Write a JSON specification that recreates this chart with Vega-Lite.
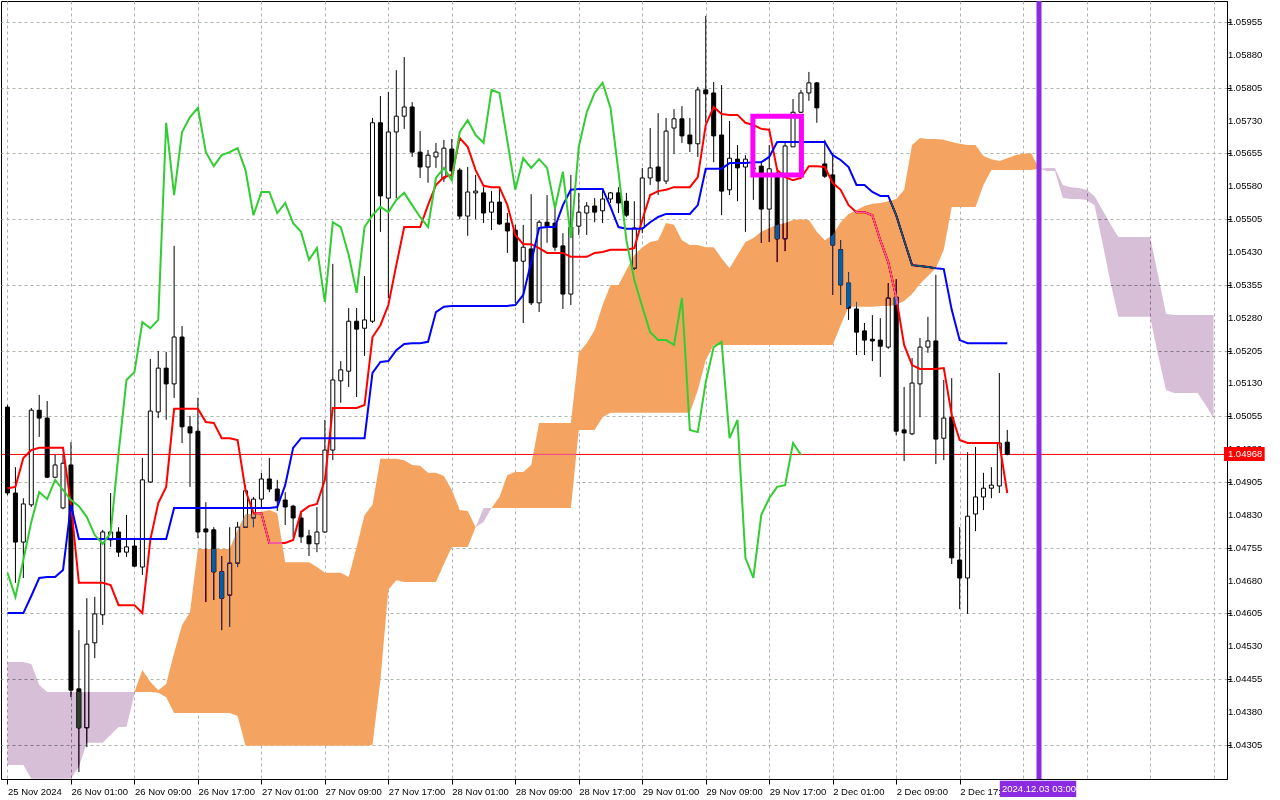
{
  "$schema": "https://vega.github.io/schema/vega-lite/v6.json",
  "width": 1226,
  "height": 778,
  "autosize": {"type": "none"},
  "padding": {"left": 1, "top": 1, "right": 53, "bottom": 21},
  "background": "white",
  "config": {
    "view": {"stroke": "black", "strokeWidth": 1, "fill": "white"},
    "font": "Liberation Sans",
    "axis": {"labelOverlap": false, "labelFlush": false, "labelBound": false}
  },
  "datasets": {
    "bars": [
      {"k":0,"o":1.05076,"h":1.05081,"l":1.04875,"c":1.0488,"tk":1.04891,"kj":1.04606},
      {"k":1,"o":1.0488,"h":1.04939,"l":1.04675,"c":1.04768,"tk":1.04894,"kj":1.04606},
      {"k":2,"o":1.04768,"h":1.04868,"l":1.04686,"c":1.04855,"tk":1.0496,"kj":1.04606},
      {"k":3,"o":1.04853,"h":1.05074,"l":1.04848,"c":1.05069,"tk":1.04978,"kj":1.04645},
      {"k":4,"o":1.05069,"h":1.05104,"l":1.05008,"c":1.05051,"tk":1.04983,"kj":1.04686},
      {"k":5,"o":1.05051,"h":1.0509,"l":1.04914,"c":1.04916,"tk":1.04983,"kj":1.04688},
      {"k":6,"o":1.04916,"h":1.04967,"l":1.04914,"c":1.04944,"tk":1.04983,"kj":1.04688},
      {"k":7,"o":1.04846,"h":1.04967,"l":1.04843,"c":1.04948,"tk":1.04983,"kj":1.04704},
      {"k":8,"o":1.04944,"h":1.04996,"l":1.04414,"c":1.0443,"tk":1.04853,"kj":1.04853},
      {"k":9,"o":1.04433,"h":1.04567,"l":1.04243,"c":1.04344,"tk":1.04675,"kj":1.04775},
      {"k":10,"o":1.04344,"h":1.0464,"l":1.043,"c":1.04535,"tk":1.04675,"kj":1.04775},
      {"k":11,"o":1.04538,"h":1.04643,"l":1.04503,"c":1.04604,"tk":1.04675,"kj":1.04775},
      {"k":12,"o":1.04602,"h":1.04796,"l":1.04579,"c":1.04791,"tk":1.04675,"kj":1.04775},
      {"k":13,"o":1.04773,"h":1.0488,"l":1.04757,"c":1.04791,"tk":1.0467,"kj":1.04775},
      {"k":14,"o":1.04791,"h":1.04802,"l":1.04734,"c":1.04745,"tk":1.04624,"kj":1.04775},
      {"k":15,"o":1.04745,"h":1.0483,"l":1.04734,"c":1.04757,"tk":1.04624,"kj":1.04775},
      {"k":16,"o":1.04759,"h":1.04773,"l":1.04711,"c":1.04713,"tk":1.04624,"kj":1.04775},
      {"k":17,"o":1.04711,"h":1.0496,"l":1.04693,"c":1.0491,"tk":1.04606,"kj":1.04775},
      {"k":18,"o":1.04905,"h":1.05186,"l":1.04903,"c":1.05067,"tk":1.04773,"kj":1.04775},
      {"k":19,"o":1.05065,"h":1.05204,"l":1.05051,"c":1.05165,"tk":1.04857,"kj":1.04775},
      {"k":20,"o":1.05165,"h":1.05202,"l":1.05047,"c":1.05129,"tk":1.04894,"kj":1.04775},
      {"k":21,"o":1.05129,"h":1.05444,"l":1.05097,"c":1.05236,"tk":1.05072,"kj":1.04846},
      {"k":22,"o":1.05236,"h":1.05261,"l":1.04994,"c":1.05031,"tk":1.05072,"kj":1.04846},
      {"k":23,"o":1.05031,"h":1.05056,"l":1.04894,"c":1.05017,"tk":1.05072,"kj":1.04846},
      {"k":24,"o":1.05021,"h":1.05097,"l":1.04777,"c":1.04791,"tk":1.05072,"kj":1.04846},
      {"k":25,"o":1.04798,"h":1.04859,"l":1.04631,"c":1.04791,"tk":1.05042,"kj":1.04846},
      {"k":26,"o":1.04796,"h":1.04802,"l":1.04636,"c":1.047,"tk":1.0504,"kj":1.04846},
      {"k":27,"o":1.047,"h":1.04736,"l":1.04567,"c":1.0464,"tk":1.05005,"kj":1.04846},
      {"k":28,"o":1.04647,"h":1.04802,"l":1.04574,"c":1.0472,"tk":1.05005,"kj":1.04846},
      {"k":29,"o":1.0472,"h":1.04814,"l":1.04711,"c":1.04802,"tk":1.05001,"kj":1.04846},
      {"k":30,"o":1.04802,"h":1.04898,"l":1.048,"c":1.04885,"tk":1.04886,"kj":1.04846},
      {"k":31,"o":1.04823,"h":1.04871,"l":1.04802,"c":1.04866,"tk":1.04834,"kj":1.04846},
      {"k":32,"o":1.04866,"h":1.04926,"l":1.04848,"c":1.04912,"tk":1.04834,"kj":1.04846},
      {"k":33,"o":1.04912,"h":1.0496,"l":1.04882,"c":1.04889,"tk":1.04766,"kj":1.04846},
      {"k":34,"o":1.04889,"h":1.0491,"l":1.04839,"c":1.04862,"tk":1.04766,"kj":1.04848},
      {"k":35,"o":1.04864,"h":1.04882,"l":1.04807,"c":1.04848,"tk":1.04766,"kj":1.04898},
      {"k":36,"o":1.0485,"h":1.04853,"l":1.0478,"c":1.04823,"tk":1.04773,"kj":1.04983},
      {"k":37,"o":1.04823,"h":1.04834,"l":1.04766,"c":1.0478,"tk":1.04837,"kj":1.05005},
      {"k":38,"o":1.04782,"h":1.04796,"l":1.04736,"c":1.04764,"tk":1.0485,"kj":1.05005},
      {"k":39,"o":1.04764,"h":1.04848,"l":1.04745,"c":1.04791,"tk":1.04855,"kj":1.05005},
      {"k":40,"o":1.04791,"h":1.05047,"l":1.04789,"c":1.04978,"tk":1.0491,"kj":1.05005},
      {"k":41,"o":1.04978,"h":1.05403,"l":1.04955,"c":1.05138,"tk":1.05074,"kj":1.05005},
      {"k":42,"o":1.05136,"h":1.05181,"l":1.05086,"c":1.05161,"tk":1.05074,"kj":1.05005},
      {"k":43,"o":1.05158,"h":1.05302,"l":1.05122,"c":1.05272,"tk":1.05074,"kj":1.05005},
      {"k":44,"o":1.05272,"h":1.05302,"l":1.05099,"c":1.05254,"tk":1.05074,"kj":1.05005},
      {"k":45,"o":1.05256,"h":1.05375,"l":1.05193,"c":1.05275,"tk":1.05081,"kj":1.05005},
      {"k":46,"o":1.05272,"h":1.05736,"l":1.05268,"c":1.05725,"tk":1.05236,"kj":1.05154},
      {"k":47,"o":1.05725,"h":1.05786,"l":1.05476,"c":1.05558,"tk":1.05263,"kj":1.05179},
      {"k":48,"o":1.05553,"h":1.05795,"l":1.05325,"c":1.05704,"tk":1.05309,"kj":1.05181},
      {"k":49,"o":1.05704,"h":1.05845,"l":1.05553,"c":1.0574,"tk":1.054,"kj":1.05206},
      {"k":50,"o":1.0574,"h":1.05875,"l":1.05711,"c":1.05761,"tk":1.05487,"kj":1.0522},
      {"k":51,"o":1.05761,"h":1.05772,"l":1.05647,"c":1.05658,"tk":1.05487,"kj":1.05222},
      {"k":52,"o":1.05658,"h":1.05706,"l":1.05599,"c":1.05624,"tk":1.05487,"kj":1.05222},
      {"k":53,"o":1.05624,"h":1.05663,"l":1.05588,"c":1.05651,"tk":1.05537,"kj":1.05225},
      {"k":54,"o":1.05647,"h":1.05679,"l":1.05622,"c":1.05658,"tk":1.05583,"kj":1.05293},
      {"k":55,"o":1.05599,"h":1.05686,"l":1.0559,"c":1.05667,"tk":1.05601,"kj":1.05305},
      {"k":56,"o":1.05665,"h":1.05688,"l":1.05594,"c":1.05615,"tk":1.05606,"kj":1.05307},
      {"k":57,"o":1.05617,"h":1.05622,"l":1.05505,"c":1.05512,"tk":1.0569,"kj":1.05307},
      {"k":58,"o":1.05512,"h":1.05624,"l":1.05467,"c":1.05567,"tk":1.0567,"kj":1.05307},
      {"k":59,"o":1.05565,"h":1.05606,"l":1.05505,"c":1.05569,"tk":1.05617,"kj":1.05307},
      {"k":60,"o":1.05565,"h":1.05578,"l":1.05496,"c":1.05519,"tk":1.05581,"kj":1.05307},
      {"k":61,"o":1.05521,"h":1.05569,"l":1.0548,"c":1.05544,"tk":1.05578,"kj":1.05307},
      {"k":62,"o":1.05544,"h":1.05576,"l":1.05492,"c":1.05494,"tk":1.05578,"kj":1.05307},
      {"k":63,"o":1.05496,"h":1.05519,"l":1.05428,"c":1.05478,"tk":1.05537,"kj":1.05307},
      {"k":64,"o":1.0548,"h":1.05492,"l":1.05314,"c":1.05409,"tk":1.05469,"kj":1.05309},
      {"k":65,"o":1.05409,"h":1.05492,"l":1.05268,"c":1.05441,"tk":1.05448,"kj":1.05332},
      {"k":66,"o":1.05437,"h":1.05562,"l":1.05309,"c":1.05314,"tk":1.05448,"kj":1.05407},
      {"k":67,"o":1.05314,"h":1.05503,"l":1.05293,"c":1.05498,"tk":1.05439,"kj":1.05485},
      {"k":68,"o":1.05498,"h":1.0556,"l":1.05451,"c":1.05489,"tk":1.05428,"kj":1.05487},
      {"k":69,"o":1.05496,"h":1.0553,"l":1.05432,"c":1.05441,"tk":1.05428,"kj":1.05487},
      {"k":70,"o":1.05444,"h":1.05473,"l":1.053,"c":1.05334,"tk":1.05428,"kj":1.05537},
      {"k":71,"o":1.05334,"h":1.05606,"l":1.05309,"c":1.05487,"tk":1.05419,"kj":1.05572},
      {"k":72,"o":1.05489,"h":1.05565,"l":1.05469,"c":1.05521,"tk":1.05419,"kj":1.05574},
      {"k":73,"o":1.05519,"h":1.05544,"l":1.05469,"c":1.05535,"tk":1.05419,"kj":1.05574},
      {"k":74,"o":1.05535,"h":1.05553,"l":1.05498,"c":1.05521,"tk":1.05428,"kj":1.05574},
      {"k":75,"o":1.05524,"h":1.05576,"l":1.05496,"c":1.05551,"tk":1.0543,"kj":1.05574},
      {"k":76,"o":1.05551,"h":1.05567,"l":1.05542,"c":1.05565,"tk":1.05435,"kj":1.05533},
      {"k":77,"o":1.05565,"h":1.05578,"l":1.05519,"c":1.05542,"tk":1.05435,"kj":1.05487},
      {"k":78,"o":1.05546,"h":1.05565,"l":1.0551,"c":1.05514,"tk":1.05435,"kj":1.05483},
      {"k":79,"o":1.05393,"h":1.05546,"l":1.05389,"c":1.05485,"tk":1.05439,"kj":1.05483},
      {"k":80,"o":1.05485,"h":1.05622,"l":1.05473,"c":1.05599,"tk":1.05503,"kj":1.05483},
      {"k":81,"o":1.05599,"h":1.05713,"l":1.05583,"c":1.05622,"tk":1.0556,"kj":1.05498},
      {"k":82,"o":1.05624,"h":1.05747,"l":1.0556,"c":1.05592,"tk":1.05569,"kj":1.0551},
      {"k":83,"o":1.05592,"h":1.05736,"l":1.05585,"c":1.05706,"tk":1.05572,"kj":1.05517},
      {"k":84,"o":1.05713,"h":1.05756,"l":1.05654,"c":1.05734,"tk":1.05578,"kj":1.05517},
      {"k":85,"o":1.05734,"h":1.05763,"l":1.05679,"c":1.05695,"tk":1.05578,"kj":1.05517},
      {"k":86,"o":1.05697,"h":1.05736,"l":1.05658,"c":1.05677,"tk":1.05578,"kj":1.05517},
      {"k":87,"o":1.05677,"h":1.05807,"l":1.05647,"c":1.058,"tk":1.05601,"kj":1.05537},
      {"k":88,"o":1.058,"h":1.05969,"l":1.05725,"c":1.05791,"tk":1.0572,"kj":1.0562},
      {"k":89,"o":1.05793,"h":1.05818,"l":1.05635,"c":1.05695,"tk":1.05761,"kj":1.0562},
      {"k":90,"o":1.05697,"h":1.05811,"l":1.05514,"c":1.05569,"tk":1.05745,"kj":1.0562},
      {"k":91,"o":1.05572,"h":1.05729,"l":1.0556,"c":1.05644,"tk":1.05743,"kj":1.05633},
      {"k":92,"o":1.05642,"h":1.05674,"l":1.05546,"c":1.05622,"tk":1.05743,"kj":1.05633},
      {"k":93,"o":1.05624,"h":1.05651,"l":1.05476,"c":1.05642,"tk":1.05725,"kj":1.05633},
      {"k":94,"o":1.05622,"h":1.05629,"l":1.05549,"c":1.0562,"tk":1.0572,"kj":1.05635},
      {"k":95,"o":1.05626,"h":1.05633,"l":1.05451,"c":1.05528,"tk":1.05711,"kj":1.05635},
      {"k":96,"o":1.05528,"h":1.05674,"l":1.05453,"c":1.0562,"tk":1.05709,"kj":1.05647},
      {"k":97,"o":1.0561,"h":1.05622,"l":1.05407,"c":1.0546,"tk":1.05617,"kj":1.05681},
      {"k":98,"o":1.0546,"h":1.05679,"l":1.05432,"c":1.05672,"tk":1.05601,"kj":1.05681},
      {"k":99,"o":1.0567,"h":1.05779,"l":1.0567,"c":1.05749,"tk":1.05594,"kj":1.05681},
      {"k":100,"o":1.05749,"h":1.058,"l":1.05747,"c":1.05793,"tk":1.05599,"kj":1.05681},
      {"k":101,"o":1.05793,"h":1.05841,"l":1.05775,"c":1.05816,"tk":1.05626,"kj":1.05681},
      {"k":102,"o":1.05816,"h":1.05818,"l":1.05725,"c":1.05759,"tk":1.05626,"kj":1.05681},
      {"k":103,"o":1.05631,"h":1.05686,"l":1.05599,"c":1.05603,"tk":1.05624,"kj":1.05681},
      {"k":104,"o":1.05606,"h":1.05656,"l":1.05332,"c":1.05446,"tk":1.05588,"kj":1.05651},
      {"k":105,"o":1.05435,"h":1.05457,"l":1.05309,"c":1.05355,"tk":1.05572,"kj":1.0564},
      {"k":106,"o":1.05359,"h":1.05384,"l":1.05275,"c":1.05302,"tk":1.05537,"kj":1.05624},
      {"k":107,"o":1.053,"h":1.05316,"l":1.05195,"c":1.05247,"tk":1.05521,"kj":1.05583},
      {"k":108,"o":1.0525,"h":1.05268,"l":1.05195,"c":1.05229,"tk":1.05521,"kj":1.05583},
      {"k":109,"o":1.05231,"h":1.05286,"l":1.05181,"c":1.05227,"tk":1.05514,"kj":1.05567},
      {"k":110,"o":1.05229,"h":1.05279,"l":1.05145,"c":1.05215,"tk":1.05457,"kj":1.05558},
      {"k":111,"o":1.05213,"h":1.05359,"l":1.05209,"c":1.05325,"tk":1.05407,"kj":1.05558},
      {"k":112,"o":1.05327,"h":1.05368,"l":1.05012,"c":1.05021,"tk":1.05327,"kj":1.05514},
      {"k":113,"o":1.05024,"h":1.05122,"l":1.04953,"c":1.05017,"tk":1.05218,"kj":1.05457},
      {"k":114,"o":1.05015,"h":1.05188,"l":1.05012,"c":1.05131,"tk":1.05172,"kj":1.054},
      {"k":115,"o":1.05129,"h":1.05234,"l":1.05053,"c":1.05213,"tk":1.05163,"kj":1.05398},
      {"k":116,"o":1.05213,"h":1.05282,"l":1.052,"c":1.05227,"tk":1.05163,"kj":1.05396},
      {"k":117,"o":1.05227,"h":1.05378,"l":1.04946,"c":1.05003,"tk":1.05163,"kj":1.05393},
      {"k":118,"o":1.05005,"h":1.05138,"l":1.04955,"c":1.05051,"tk":1.05165,"kj":1.05391},
      {"k":119,"o":1.05053,"h":1.05142,"l":1.04718,"c":1.04732,"tk":1.05058,"kj":1.05298},
      {"k":120,"o":1.04727,"h":1.04802,"l":1.04615,"c":1.04686,"tk":1.05001,"kj":1.05229},
      {"k":121,"o":1.04686,"h":1.04973,"l":1.04604,"c":1.04827,"tk":1.04994,"kj":1.05222},
      {"k":122,"o":1.04832,"h":1.04985,"l":1.04793,"c":1.04871,"tk":1.04994,"kj":1.05222},
      {"k":123,"o":1.04871,"h":1.04926,"l":1.04841,"c":1.04891,"tk":1.04994,"kj":1.05222},
      {"k":124,"o":1.04891,"h":1.04939,"l":1.04868,"c":1.04898,"tk":1.04994,"kj":1.05222},
      {"k":125,"o":1.04896,"h":1.05154,"l":1.0488,"c":1.04994,"tk":1.04994,"kj":1.05222},
      {"k":126,"o":1.04996,"h":1.05024,"l":1.04966,"c":1.04968,"tk":1.0488,"kj":1.05222}
    ],
    "chikou": [
      {"k":0,"v":1.04698},{"k":1,"v":1.04643},{"k":2,"v":1.04727},{"k":3,"v":1.04814},{"k":4,"v":1.04882},
      {"k":5,"v":1.04866},{"k":6,"v":1.0491},{"k":7,"v":1.04887},{"k":8,"v":1.04864},{"k":9,"v":1.0485},
      {"k":10,"v":1.04825},{"k":11,"v":1.04784},{"k":12,"v":1.04764},{"k":13,"v":1.04789},{"k":14,"v":1.04971},
      {"k":15,"v":1.05138},{"k":16,"v":1.05156},{"k":17,"v":1.0527},{"k":18,"v":1.05256},{"k":19,"v":1.05275},
      {"k":20,"v":1.05725},{"k":21,"v":1.0556},{"k":22,"v":1.05704},{"k":23,"v":1.05738},{"k":24,"v":1.05759},
      {"k":25,"v":1.05658},{"k":26,"v":1.05626},{"k":27,"v":1.05651},{"k":28,"v":1.05658},{"k":29,"v":1.05667},
      {"k":30,"v":1.05617},{"k":31,"v":1.05514},{"k":32,"v":1.05567},{"k":33,"v":1.05567},{"k":34,"v":1.05519},
      {"k":35,"v":1.05542},{"k":36,"v":1.05496},{"k":37,"v":1.05476},{"k":38,"v":1.05412},{"k":39,"v":1.05439},
      {"k":40,"v":1.05316},{"k":41,"v":1.05498},{"k":42,"v":1.05487},{"k":43,"v":1.05423},{"k":44,"v":1.05337},
      {"k":45,"v":1.05487},{"k":46,"v":1.05514},{"k":47,"v":1.05533},{"k":48,"v":1.05521},{"k":49,"v":1.05549},
      {"k":50,"v":1.05565},{"k":51,"v":1.05537},{"k":52,"v":1.0551},{"k":53,"v":1.05487},{"k":54,"v":1.05599},
      {"k":55,"v":1.05622},{"k":56,"v":1.05594},{"k":57,"v":1.05704},{"k":58,"v":1.05731},{"k":59,"v":1.05697},
      {"k":60,"v":1.05679},{"k":61,"v":1.058},{"k":62,"v":1.05793},{"k":63,"v":1.05683},{"k":64,"v":1.05572},
      {"k":65,"v":1.05644},{"k":66,"v":1.05622},{"k":67,"v":1.05642},{"k":68,"v":1.05622},{"k":69,"v":1.0553},
      {"k":70,"v":1.05613},{"k":71,"v":1.05462},{"k":72,"v":1.0567},{"k":73,"v":1.05749},{"k":74,"v":1.05793},
      {"k":75,"v":1.05816},{"k":76,"v":1.05759},{"k":77,"v":1.05613},{"k":78,"v":1.05457},{"k":79,"v":1.05366},
      {"k":80,"v":1.05305},{"k":81,"v":1.05247},{"k":82,"v":1.05229},{"k":83,"v":1.05229},{"k":84,"v":1.05218},
      {"k":85,"v":1.05325},{"k":86,"v":1.05024},{"k":87,"v":1.05019},{"k":88,"v":1.05133},{"k":89,"v":1.05213},
      {"k":90,"v":1.05225},{"k":91,"v":1.05005},{"k":92,"v":1.05047},{"k":93,"v":1.04732},{"k":94,"v":1.04686},
      {"k":95,"v":1.0483},{"k":96,"v":1.04868},{"k":97,"v":1.04894},{"k":98,"v":1.04898},{"k":99,"v":1.04994},
      {"k":100,"v":1.04967}
    ],
    "cloud": [
      {"k":0,"hi":1.04494,"lo":1.04259,"seg":"a","col":"t"},
      {"k":1,"hi":1.04494,"lo":1.04259,"seg":"a","col":"t"},
      {"k":2,"hi":1.04494,"lo":1.04259,"seg":"a","col":"t"},
      {"k":3,"hi":1.0449,"lo":1.04228,"seg":"a","col":"t"},
      {"k":4,"hi":1.04442,"lo":1.04228,"seg":"a","col":"t"},
      {"k":5,"hi":1.04426,"lo":1.04228,"seg":"a","col":"t"},
      {"k":6,"hi":1.04426,"lo":1.04228,"seg":"a","col":"t"},
      {"k":7,"hi":1.04426,"lo":1.04228,"seg":"a","col":"t"},
      {"k":8,"hi":1.04426,"lo":1.04228,"seg":"a","col":"t"},
      {"k":9,"hi":1.04426,"lo":1.04255,"seg":"a","col":"t"},
      {"k":10,"hi":1.04426,"lo":1.0431,"seg":"a","col":"t"},
      {"k":11,"hi":1.04426,"lo":1.0431,"seg":"a","col":"t"},
      {"k":12,"hi":1.04426,"lo":1.0431,"seg":"a","col":"t"},
      {"k":13,"hi":1.04426,"lo":1.04328,"seg":"a","col":"t"},
      {"k":14,"hi":1.04426,"lo":1.04346,"seg":"a","col":"t"},
      {"k":15,"hi":1.04426,"lo":1.04346,"seg":"a","col":"t"},
      {"k":16,"hi":1.04426,"lo":1.04421,"seg":"a","col":"t"},
      {"k":16,"hi":1.04426,"lo":1.04426,"seg":"b","col":"o"},
      {"k":17,"hi":1.04476,"lo":1.04426,"seg":"b","col":"o"},
      {"k":18,"hi":1.04449,"lo":1.04426,"seg":"b","col":"o"},
      {"k":19,"hi":1.0443,"lo":1.04424,"seg":"b","col":"o"},
      {"k":20,"hi":1.04444,"lo":1.04414,"seg":"b","col":"o"},
      {"k":21,"hi":1.04515,"lo":1.04378,"seg":"b","col":"o"},
      {"k":22,"hi":1.04579,"lo":1.04378,"seg":"b","col":"o"},
      {"k":23,"hi":1.04608,"lo":1.04378,"seg":"b","col":"o"},
      {"k":24,"hi":1.04752,"lo":1.04378,"seg":"b","col":"o"},
      {"k":25,"hi":1.04752,"lo":1.04378,"seg":"b","col":"o"},
      {"k":26,"hi":1.04752,"lo":1.04378,"seg":"b","col":"o"},
      {"k":27,"hi":1.04752,"lo":1.04378,"seg":"b","col":"o"},
      {"k":28,"hi":1.04752,"lo":1.04378,"seg":"b","col":"o"},
      {"k":29,"hi":1.04796,"lo":1.04371,"seg":"b","col":"o"},
      {"k":30,"hi":1.04832,"lo":1.04303,"seg":"b","col":"o"},
      {"k":31,"hi":1.04832,"lo":1.04303,"seg":"b","col":"o"},
      {"k":32,"hi":1.04837,"lo":1.04303,"seg":"b","col":"o"},
      {"k":33,"hi":1.04841,"lo":1.04303,"seg":"b","col":"o"},
      {"k":34,"hi":1.04834,"lo":1.04303,"seg":"b","col":"o"},
      {"k":35,"hi":1.04722,"lo":1.04303,"seg":"b","col":"o"},
      {"k":36,"hi":1.04722,"lo":1.04303,"seg":"b","col":"o"},
      {"k":37,"hi":1.04722,"lo":1.04303,"seg":"b","col":"o"},
      {"k":38,"hi":1.04722,"lo":1.04303,"seg":"b","col":"o"},
      {"k":39,"hi":1.04711,"lo":1.04303,"seg":"b","col":"o"},
      {"k":40,"hi":1.04698,"lo":1.04303,"seg":"b","col":"o"},
      {"k":41,"hi":1.04698,"lo":1.04303,"seg":"b","col":"o"},
      {"k":42,"hi":1.04698,"lo":1.04303,"seg":"b","col":"o"},
      {"k":43,"hi":1.04688,"lo":1.04303,"seg":"b","col":"o"},
      {"k":44,"hi":1.04757,"lo":1.04303,"seg":"b","col":"o"},
      {"k":45,"hi":1.0483,"lo":1.04303,"seg":"b","col":"o"},
      {"k":46,"hi":1.04853,"lo":1.04305,"seg":"b","col":"o"},
      {"k":47,"hi":1.04958,"lo":1.04453,"seg":"b","col":"o"},
      {"k":48,"hi":1.04958,"lo":1.04659,"seg":"b","col":"o"},
      {"k":49,"hi":1.04958,"lo":1.04681,"seg":"b","col":"o"},
      {"k":50,"hi":1.04955,"lo":1.04677,"seg":"b","col":"o"},
      {"k":51,"hi":1.04944,"lo":1.04677,"seg":"b","col":"o"},
      {"k":52,"hi":1.04942,"lo":1.04677,"seg":"b","col":"o"},
      {"k":53,"hi":1.04926,"lo":1.04677,"seg":"b","col":"o"},
      {"k":54,"hi":1.04926,"lo":1.04677,"seg":"b","col":"o"},
      {"k":55,"hi":1.04919,"lo":1.04718,"seg":"b","col":"o"},
      {"k":56,"hi":1.04887,"lo":1.04757,"seg":"b","col":"o"},
      {"k":57,"hi":1.04841,"lo":1.04757,"seg":"b","col":"o"},
      {"k":58,"hi":1.04839,"lo":1.04757,"seg":"b","col":"o"},
      {"k":59,"hi":1.04802,"lo":1.04802,"seg":"b","col":"o"},
      {"k":59,"hi":1.04802,"lo":1.04802,"seg":"c","col":"t"},
      {"k":60,"hi":1.04846,"lo":1.04814,"seg":"c","col":"t"},
      {"k":61,"hi":1.04846,"lo":1.04846,"seg":"c","col":"t"},
      {"k":61,"hi":1.04846,"lo":1.04846,"seg":"d","col":"o"},
      {"k":62,"hi":1.04871,"lo":1.04846,"seg":"d","col":"o"},
      {"k":63,"hi":1.04921,"lo":1.04846,"seg":"d","col":"o"},
      {"k":64,"hi":1.04928,"lo":1.04846,"seg":"d","col":"o"},
      {"k":65,"hi":1.04928,"lo":1.04846,"seg":"d","col":"o"},
      {"k":66,"hi":1.04944,"lo":1.04846,"seg":"d","col":"o"},
      {"k":67,"hi":1.0504,"lo":1.04846,"seg":"d","col":"o"},
      {"k":68,"hi":1.0504,"lo":1.04846,"seg":"d","col":"o"},
      {"k":69,"hi":1.0504,"lo":1.04846,"seg":"d","col":"o"},
      {"k":70,"hi":1.0504,"lo":1.04846,"seg":"d","col":"o"},
      {"k":71,"hi":1.0504,"lo":1.04846,"seg":"d","col":"o"},
      {"k":72,"hi":1.052,"lo":1.05024,"seg":"d","col":"o"},
      {"k":73,"hi":1.05222,"lo":1.05024,"seg":"d","col":"o"},
      {"k":74,"hi":1.05252,"lo":1.05024,"seg":"d","col":"o"},
      {"k":75,"hi":1.05309,"lo":1.05053,"seg":"d","col":"o"},
      {"k":76,"hi":1.05355,"lo":1.05063,"seg":"d","col":"o"},
      {"k":77,"hi":1.05355,"lo":1.05063,"seg":"d","col":"o"},
      {"k":78,"hi":1.05389,"lo":1.05063,"seg":"d","col":"o"},
      {"k":79,"hi":1.05423,"lo":1.05063,"seg":"d","col":"o"},
      {"k":80,"hi":1.05441,"lo":1.05063,"seg":"d","col":"o"},
      {"k":81,"hi":1.05453,"lo":1.05063,"seg":"d","col":"o"},
      {"k":82,"hi":1.05457,"lo":1.05063,"seg":"d","col":"o"},
      {"k":83,"hi":1.05496,"lo":1.05063,"seg":"d","col":"o"},
      {"k":84,"hi":1.05492,"lo":1.05063,"seg":"d","col":"o"},
      {"k":85,"hi":1.05457,"lo":1.05063,"seg":"d","col":"o"},
      {"k":86,"hi":1.05446,"lo":1.05063,"seg":"d","col":"o"},
      {"k":87,"hi":1.05446,"lo":1.05115,"seg":"d","col":"o"},
      {"k":88,"hi":1.05441,"lo":1.05183,"seg":"d","col":"o"},
      {"k":89,"hi":1.05441,"lo":1.05218,"seg":"d","col":"o"},
      {"k":90,"hi":1.05416,"lo":1.05218,"seg":"d","col":"o"},
      {"k":91,"hi":1.05393,"lo":1.05218,"seg":"d","col":"o"},
      {"k":92,"hi":1.05423,"lo":1.05218,"seg":"d","col":"o"},
      {"k":93,"hi":1.05453,"lo":1.05218,"seg":"d","col":"o"},
      {"k":94,"hi":1.05462,"lo":1.05218,"seg":"d","col":"o"},
      {"k":95,"hi":1.05476,"lo":1.05218,"seg":"d","col":"o"},
      {"k":96,"hi":1.05485,"lo":1.05218,"seg":"d","col":"o"},
      {"k":97,"hi":1.05492,"lo":1.05218,"seg":"d","col":"o"},
      {"k":98,"hi":1.05496,"lo":1.05218,"seg":"d","col":"o"},
      {"k":99,"hi":1.05503,"lo":1.05218,"seg":"d","col":"o"},
      {"k":100,"hi":1.05505,"lo":1.05218,"seg":"d","col":"o"},
      {"k":101,"hi":1.05503,"lo":1.05218,"seg":"d","col":"o"},
      {"k":102,"hi":1.05476,"lo":1.05218,"seg":"d","col":"o"},
      {"k":103,"hi":1.05457,"lo":1.05218,"seg":"d","col":"o"},
      {"k":104,"hi":1.05469,"lo":1.05218,"seg":"d","col":"o"},
      {"k":105,"hi":1.05498,"lo":1.05263,"seg":"d","col":"o"},
      {"k":106,"hi":1.05517,"lo":1.05305,"seg":"d","col":"o"},
      {"k":107,"hi":1.05526,"lo":1.05305,"seg":"d","col":"o"},
      {"k":108,"hi":1.05535,"lo":1.05305,"seg":"d","col":"o"},
      {"k":109,"hi":1.0554,"lo":1.05305,"seg":"d","col":"o"},
      {"k":110,"hi":1.05542,"lo":1.05307,"seg":"d","col":"o"},
      {"k":111,"hi":1.05546,"lo":1.05307,"seg":"d","col":"o"},
      {"k":112,"hi":1.05551,"lo":1.05309,"seg":"d","col":"o"},
      {"k":113,"hi":1.05572,"lo":1.05318,"seg":"d","col":"o"},
      {"k":114,"hi":1.05674,"lo":1.05334,"seg":"d","col":"o"},
      {"k":115,"hi":1.0569,"lo":1.05357,"seg":"d","col":"o"},
      {"k":116,"hi":1.05688,"lo":1.05375,"seg":"d","col":"o"},
      {"k":117,"hi":1.05688,"lo":1.05393,"seg":"d","col":"o"},
      {"k":118,"hi":1.05686,"lo":1.05435,"seg":"d","col":"o"},
      {"k":119,"hi":1.05681,"lo":1.05533,"seg":"d","col":"o"},
      {"k":120,"hi":1.05677,"lo":1.05533,"seg":"d","col":"o"},
      {"k":121,"hi":1.05674,"lo":1.05533,"seg":"d","col":"o"},
      {"k":122,"hi":1.05674,"lo":1.05533,"seg":"d","col":"o"},
      {"k":123,"hi":1.05649,"lo":1.05583,"seg":"d","col":"o"},
      {"k":124,"hi":1.05642,"lo":1.05617,"seg":"d","col":"o"},
      {"k":125,"hi":1.05638,"lo":1.05617,"seg":"d","col":"o"},
      {"k":126,"hi":1.05644,"lo":1.05617,"seg":"d","col":"o"},
      {"k":127,"hi":1.05651,"lo":1.05617,"seg":"d","col":"o"},
      {"k":128,"hi":1.05654,"lo":1.05617,"seg":"d","col":"o"},
      {"k":129,"hi":1.05656,"lo":1.05617,"seg":"d","col":"o"},
      {"k":130,"hi":1.0562,"lo":1.0562,"seg":"d","col":"o"},
      {"k":130,"hi":1.0562,"lo":1.0562,"seg":"e","col":"t"},
      {"k":131,"hi":1.05622,"lo":1.05615,"seg":"e","col":"t"},
      {"k":132,"hi":1.05622,"lo":1.05615,"seg":"e","col":"t"},
      {"k":133,"hi":1.05583,"lo":1.05553,"seg":"e","col":"t"},
      {"k":134,"hi":1.05578,"lo":1.05551,"seg":"e","col":"t"},
      {"k":135,"hi":1.05576,"lo":1.05551,"seg":"e","col":"t"},
      {"k":136,"hi":1.05572,"lo":1.05549,"seg":"e","col":"t"},
      {"k":137,"hi":1.05558,"lo":1.05537,"seg":"e","col":"t"},
      {"k":138,"hi":1.05526,"lo":1.05451,"seg":"e","col":"t"},
      {"k":139,"hi":1.05494,"lo":1.05361,"seg":"e","col":"t"},
      {"k":140,"hi":1.05464,"lo":1.05282,"seg":"e","col":"t"},
      {"k":141,"hi":1.05464,"lo":1.05282,"seg":"e","col":"t"},
      {"k":142,"hi":1.05464,"lo":1.05282,"seg":"e","col":"t"},
      {"k":143,"hi":1.05464,"lo":1.05282,"seg":"e","col":"t"},
      {"k":144,"hi":1.05464,"lo":1.05282,"seg":"e","col":"t"},
      {"k":145,"hi":1.05378,"lo":1.05195,"seg":"e","col":"t"},
      {"k":146,"hi":1.05289,"lo":1.05115,"seg":"e","col":"t"},
      {"k":147,"hi":1.05286,"lo":1.05108,"seg":"e","col":"t"},
      {"k":148,"hi":1.05286,"lo":1.05108,"seg":"e","col":"t"},
      {"k":149,"hi":1.05286,"lo":1.05108,"seg":"e","col":"t"},
      {"k":150,"hi":1.05286,"lo":1.05108,"seg":"e","col":"t"},
      {"k":151,"hi":1.05286,"lo":1.05081,"seg":"e","col":"t"},
      {"k":152,"hi":1.05286,"lo":1.05051,"seg":"e","col":"t"}
    ],
    "prices": [
      {"p":1.04305,"t":"1.04305"},{"p":1.0438,"t":"1.04380"},{"p":1.04455,"t":"1.04455"},{"p":1.0453,"t":"1.04530"},
      {"p":1.04605,"t":"1.04605"},{"p":1.0468,"t":"1.04680"},{"p":1.04755,"t":"1.04755"},{"p":1.0483,"t":"1.04830"},
      {"p":1.04905,"t":"1.04905"},{"p":1.0498,"t":"1.04980"},{"p":1.05055,"t":"1.05055"},{"p":1.0513,"t":"1.05130"},
      {"p":1.05205,"t":"1.05205"},{"p":1.0528,"t":"1.05280"},{"p":1.05355,"t":"1.05355"},{"p":1.0543,"t":"1.05430"},
      {"p":1.05505,"t":"1.05505"},{"p":1.0558,"t":"1.05580"},{"p":1.05655,"t":"1.05655"},{"p":1.0573,"t":"1.05730"},
      {"p":1.05805,"t":"1.05805"},{"p":1.0588,"t":"1.05880"},{"p":1.05955,"t":"1.05955"}
    ]
  },
  "layer": [
    {
      "data": {"name": "cloud"},
      "transform": [{"filter": "datum.col === 'o'"}],
      "mark": {"type": "area", "fill": "white", "opacity": 1},
      "encoding": {
        "x": {
          "field": "k", "type": "quantitative",
          "scale": {"domain": [-0.1875, 153.0625], "nice": false, "zero": false},
          "axis": {
            "title": null, "orient": "bottom",
            "values": [0,4,8,12,16,20,24,28,32,36,40,44,48,52,56,60,64,68,72,76,80,84,88,92,96,100,104,108,112,116,120,124,128,132,136,140,144,148,152],
            "grid": true, "gridColor": "#b8aab8", "gridDash": [3, 3], "gridWidth": 1,
            "domainColor": "black", "tickColor": "black", "tickSize": 5,
            "tickOpacity": {"condition": {"test": "datum.value % 8 === 0 && datum.value <= 120", "value": 1}, "value": 0},
            "labelExpr": "datum.value % 8 === 0 && datum.value <= 120 ? ['25 Nov 2024','26 Nov 01:00','26 Nov 09:00','26 Nov 17:00','27 Nov 01:00','27 Nov 09:00','27 Nov 17:00','28 Nov 01:00','28 Nov 09:00','28 Nov 17:00','29 Nov 01:00','29 Nov 09:00','29 Nov 17:00','2 Dec 01:00','2 Dec 09:00','2 Dec 17:00'][datum.value / 8] : ''",
            "labelAlign": "left", "labelBaseline": "top", "labelPadding": 2,
            "labelFont": "Liberation Sans", "labelFontSize": 9.5, "labelColor": "black",
            "labelOverlap": false, "labelFlush": false, "labelBound": false
          }
        },
        "y": {
          "field": "hi", "type": "quantitative",
          "scale": {"domain": [1.0422725, 1.060029], "nice": false, "zero": false},
          "axis": {
            "title": null, "orient": "right",
            "values": [1.04305,1.0438,1.04455,1.0453,1.04605,1.0468,1.04755,1.0483,1.04905,1.0498,1.05055,1.0513,1.05205,1.0528,1.05355,1.0543,1.05505,1.0558,1.05655,1.0573,1.05805,1.0588,1.05955],
            "labels": false,
            "grid": true, "gridColor": "#a9b8a9", "gridDash": [3, 3], "gridWidth": 1,
            "domainColor": "black", "tickColor": "black", "tickSize": 4
          }
        },
        "y2": {"field": "lo"},
        "detail": {"field": "seg"}
      }
    },
    {
      "data": {"values": [{}]},
      "mark": {"type": "rule", "color": "#ff0000", "strokeWidth": 1},
      "encoding": {
        "y": {"datum": 1.04968, "type": "quantitative", "scale": {"domain": [1.0422725, 1.060029], "nice": false, "zero": false}}
      }
    },
    {
      "data": {"name": "bars"},
      "mark": {"type": "rule", "color": "black", "strokeWidth": 1, "clip": true},
      "encoding": {
        "x": {"field": "k", "type": "quantitative", "scale": {"domain": [-0.1875, 153.0625], "nice": false, "zero": false}},
        "y": {"field": "l", "type": "quantitative", "scale": {"domain": [1.0422725, 1.060029], "nice": false, "zero": false}},
        "y2": {"field": "h"}
      }
    },
    {
      "data": {"name": "bars"},
      "mark": {"type": "bar", "size": 4, "stroke": "black", "strokeWidth": 1, "clip": true},
      "encoding": {
        "x": {"field": "k", "type": "quantitative", "scale": {"domain": [-0.1875, 153.0625], "nice": false, "zero": false}},
        "y": {"field": "o", "type": "quantitative", "scale": {"domain": [1.0422725, 1.060029], "nice": false, "zero": false}},
        "y2": {"field": "c"},
        "fill": {"condition": {"test": "datum.c > datum.o", "value": "white"}, "value": "black"}
      }
    },
    {
      "data": {"name": "bars"},
      "mark": {"type": "line", "color": "#ff0000", "strokeWidth": 2},
      "encoding": {
        "x": {"field": "k", "type": "quantitative", "scale": {"domain": [-0.1875, 153.0625], "nice": false, "zero": false}},
        "y": {"field": "tk", "type": "quantitative", "scale": {"domain": [1.0422725, 1.060029], "nice": false, "zero": false}}
      }
    },
    {
      "data": {"name": "bars"},
      "mark": {"type": "line", "color": "#0000ff", "strokeWidth": 2},
      "encoding": {
        "x": {"field": "k", "type": "quantitative", "scale": {"domain": [-0.1875, 153.0625], "nice": false, "zero": false}},
        "y": {"field": "kj", "type": "quantitative", "scale": {"domain": [1.0422725, 1.060029], "nice": false, "zero": false}}
      }
    },
    {
      "data": {"name": "cloud"},
      "mark": {"type": "area", "blend": "difference", "opacity": 1, "fillOpacity": 1},
      "encoding": {
        "x": {"field": "k", "type": "quantitative", "scale": {"domain": [-0.1875, 153.0625], "nice": false, "zero": false}},
        "y": {"field": "hi", "type": "quantitative", "scale": {"domain": [1.0422725, 1.060029], "nice": false, "zero": false}},
        "y2": {"field": "lo"},
        "detail": {"field": "seg"},
        "color": {"field": "col", "type": "nominal", "scale": {"domain": ["o", "t"], "range": ["#0b5b9f", "#274027"]}, "legend": null}
      }
    },
    {
      "data": {"name": "chikou"},
      "mark": {"type": "line", "color": "#32cd32", "strokeWidth": 2},
      "encoding": {
        "x": {"field": "k", "type": "quantitative", "scale": {"domain": [-0.1875, 153.0625], "nice": false, "zero": false}},
        "y": {"field": "v", "type": "quantitative", "scale": {"domain": [1.0422725, 1.060029], "nice": false, "zero": false}}
      }
    },
    {
      "data": {"values": [{"k1": 93.94, "k2": 100.06, "p1": 1.0574, "p2": 1.05606}]},
      "mark": {"type": "rect", "fillOpacity": 0, "stroke": "#ff00ff", "strokeWidth": 5},
      "encoding": {
        "x": {"field": "k1", "type": "quantitative", "scale": {"domain": [-0.1875, 153.0625], "nice": false, "zero": false}},
        "x2": {"field": "k2"},
        "y": {"field": "p1", "type": "quantitative", "scale": {"domain": [1.0422725, 1.060029], "nice": false, "zero": false}},
        "y2": {"field": "p2"}
      }
    },
    {
      "data": {"values": [{}]},
      "mark": {"type": "rule", "color": "#8a2be2", "strokeWidth": 5},
      "encoding": {
        "x": {"datum": 130, "type": "quantitative", "scale": {"domain": [-0.1875, 153.0625], "nice": false, "zero": false}}
      }
    },
    {
      "data": {"name": "prices"},
      "mark": {"type": "text", "color": "black", "font": "Liberation Sans", "fontSize": 9.5, "align": "left", "baseline": "middle", "clip": false},
      "encoding": {
        "x": {"datum": 153.81, "type": "quantitative", "scale": {"domain": [-0.1875, 153.0625], "nice": false, "zero": false}},
        "y": {"field": "p", "type": "quantitative", "scale": {"domain": [1.0422725, 1.060029], "nice": false, "zero": false}},
        "text": {"field": "t"}
      }
    },
    {
      "data": {"values": [
        {"k1": 153.31, "k2": 158.44, "p1": 1.04985, "p2": 1.04953, "col": "#ff0000"},
        {"k1": 125.06, "k2": 134.69, "p1": 1.04223, "p2": 1.04186, "col": "#8a2be2"}
      ]},
      "mark": {"type": "rect", "clip": false},
      "encoding": {
        "x": {"field": "k1", "type": "quantitative", "scale": {"domain": [-0.1875, 153.0625], "nice": false, "zero": false}},
        "x2": {"field": "k2"},
        "y": {"field": "p1", "type": "quantitative", "scale": {"domain": [1.0422725, 1.060029], "nice": false, "zero": false}},
        "y2": {"field": "p2"},
        "fill": {"field": "col", "type": "nominal", "scale": null}
      }
    },
    {
      "data": {"values": [{"k": 153.81, "p": 1.04968, "t": "1.04968"}]},
      "mark": {"type": "text", "color": "white", "font": "Liberation Sans", "fontSize": 9.5, "align": "left", "baseline": "middle", "clip": false},
      "encoding": {
        "x": {"field": "k", "type": "quantitative", "scale": {"domain": [-0.1875, 153.0625], "nice": false, "zero": false}},
        "y": {"field": "p", "type": "quantitative", "scale": {"domain": [1.0422725, 1.060029], "nice": false, "zero": false}},
        "text": {"field": "t"}
      }
    },
    {
      "data": {"values": [{"k": 130, "p": 1.04205, "t": "2024.12.03 03:00"}]},
      "mark": {"type": "text", "color": "white", "font": "Liberation Sans", "fontSize": 9.5, "align": "center", "baseline": "middle", "clip": false},
      "encoding": {
        "x": {"field": "k", "type": "quantitative", "scale": {"domain": [-0.1875, 153.0625], "nice": false, "zero": false}},
        "y": {"field": "p", "type": "quantitative", "scale": {"domain": [1.0422725, 1.060029], "nice": false, "zero": false}},
        "text": {"field": "t"}
      }
    }
  ]
}
